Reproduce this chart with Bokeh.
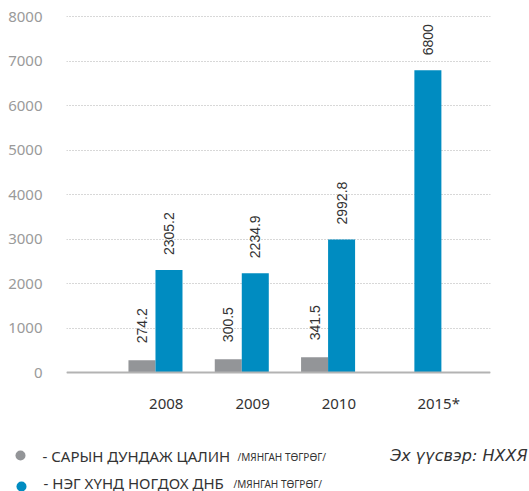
from bokeh.plotting import figure
from bokeh.layouts import column
from bokeh.models import Range1d, FixedTicker, Span, ColumnDataSource
from bokeh.core.properties import value
from bokeh.embed import file_html
from bokeh.resources import INLINE
import math

years = ["2008", "2009", "2010", "2015*"]
wage = [274.2, 300.5, 341.5, float("nan")]
gdp = [2305.2, 2234.9, 2992.8, 6800]
wage_labels = ["274.2", "300.5", "341.5", ""]
gdp_labels = ["2305.2", "2234.9", "2992.8", "6800"]
y_ticks = [0, 1000, 2000, 3000, 4000, 5000, 6000, 7000, 8000]
legend_main = ["- САРЫН ДУНДАЖ ЦАЛИН", "- НЭГ ХҮНД НОГДОХ ДНБ"]
legend_unit = ["/МЯНГАН ТӨГРӨГ/", "/МЯНГАН ТӨГРӨГ/"]
source_text = "Эх үүсвэр: НХХЯ"

GRAY = "#939598"
BLUE = "#008cc1"
DARK = "#333333"

W = 529
bw = 0.313
half = bw / 2

idx = list(range(len(years)))
x_wage = [i - half for i in idx]
x_gdp = [i + half for i in idx]
tick_pos = []
for i in idx:
    xs = [x_gdp[i]] if math.isnan(wage[i]) else [x_wage[i], x_gdp[i]]
    tick_pos.append(sum(xs) / len(xs) + 0.125)

p = figure(width=W, height=440, output_backend="svg", toolbar_location=None,
           x_range=Range1d(-1.031, 3.882), y_range=Range1d(-180, 8146),
           min_border_left=66, min_border_right=39, min_border_top=10,
           min_border_bottom=60)
p.frame_align = False
p.outline_line_color = None
p.background_fill_color = "white"
p.border_fill_color = "white"

src_w = ColumnDataSource(dict(x=x_wage, top=wage, lab=wage_labels))
src_g = ColumnDataSource(dict(x=x_gdp, top=gdp, lab=gdp_labels))

p.vbar(x="x", top="top", bottom=0, width=bw, source=src_w, color=GRAY, line_color=None)
p.vbar(x="x", top="top", bottom=0, width=bw, source=src_g, color=BLUE, line_color=None)

p.text(x="x", y="top", text="lab", source=src_w, angle=math.pi / 2,
       text_align="left", text_baseline="middle", y_offset=-17,
       text_font=value("Liberation Sans"), text_font_size="14px", text_color=DARK)
p.text(x="x", y="top", text="lab", source=src_g, angle=math.pi / 2,
       text_align="left", text_baseline="middle", y_offset=-15,
       text_font=value("Liberation Sans"), text_font_size="14px", text_color=DARK)

p.add_layout(Span(location=0, dimension="width", line_color="#b3b3b3", line_width=2))

p.xgrid.visible = False
p.ygrid.ticker = FixedTicker(ticks=y_ticks)
p.ygrid.grid_line_color = "#b0b0b0"
p.ygrid.grid_line_dash = "1 2"
p.ygrid.grid_line_width = 1

p.yaxis.ticker = FixedTicker(ticks=y_ticks)
p.yaxis.axis_line_color = None
p.yaxis.major_tick_line_color = None
p.yaxis.minor_tick_line_color = None
p.yaxis.major_label_text_font = "Noto Sans"
p.yaxis.major_label_text_font_size = "15px"
p.yaxis.major_label_text_color = "#9a9a9a"
p.yaxis.major_label_standoff = 18

p.xaxis.ticker = FixedTicker(ticks=tick_pos)
p.xaxis.major_label_overrides = {t: y for t, y in zip(tick_pos, years)}
p.xaxis.axis_line_color = None
p.xaxis.major_tick_line_color = None
p.xaxis.minor_tick_line_color = None
p.xaxis.major_label_text_font = "Noto Sans"
p.xaxis.major_label_text_font_size = "15px"
p.xaxis.major_label_text_color = DARK
p.xaxis.major_label_standoff = 6

LH = 51
lg = figure(width=W, height=LH, output_backend="svg", toolbar_location=None,
            x_range=Range1d(0, W), y_range=Range1d(LH, 0),
            min_border=0, min_border_left=0, min_border_right=0,
            min_border_top=0, min_border_bottom=0)
lg.frame_align = False
lg.axis.visible = False
lg.grid.visible = False
lg.outline_line_color = None

row_y = [15, 42]
lg.scatter(x=[20, 21], y=[row_y[0], row_y[1] + 4], size=10, color=[GRAY, BLUE], line_color=None)
lg.text(x=[42, 43], y=row_y, text=legend_main, text_baseline="middle",
        text_font=value("Noto Sans"), text_font_size="15px", text_color=DARK)
lg.text(x=[237, 233], y=[row_y[0] + 1, row_y[1] + 1], text=legend_unit, text_baseline="middle",
        text_font=value("Noto Sans"), text_font_size="10px",
        text_color=DARK)
lg.text(x=[527], y=[row_y[0]], text=[source_text], text_baseline="middle", text_align="right",
        text_font=value("DejaVu Sans"), text_font_size="16px", text_font_style="italic",
        text_color=DARK)

layout = column(p, lg, spacing=0)
open("out.html", "w").write(file_html(layout, INLINE))
